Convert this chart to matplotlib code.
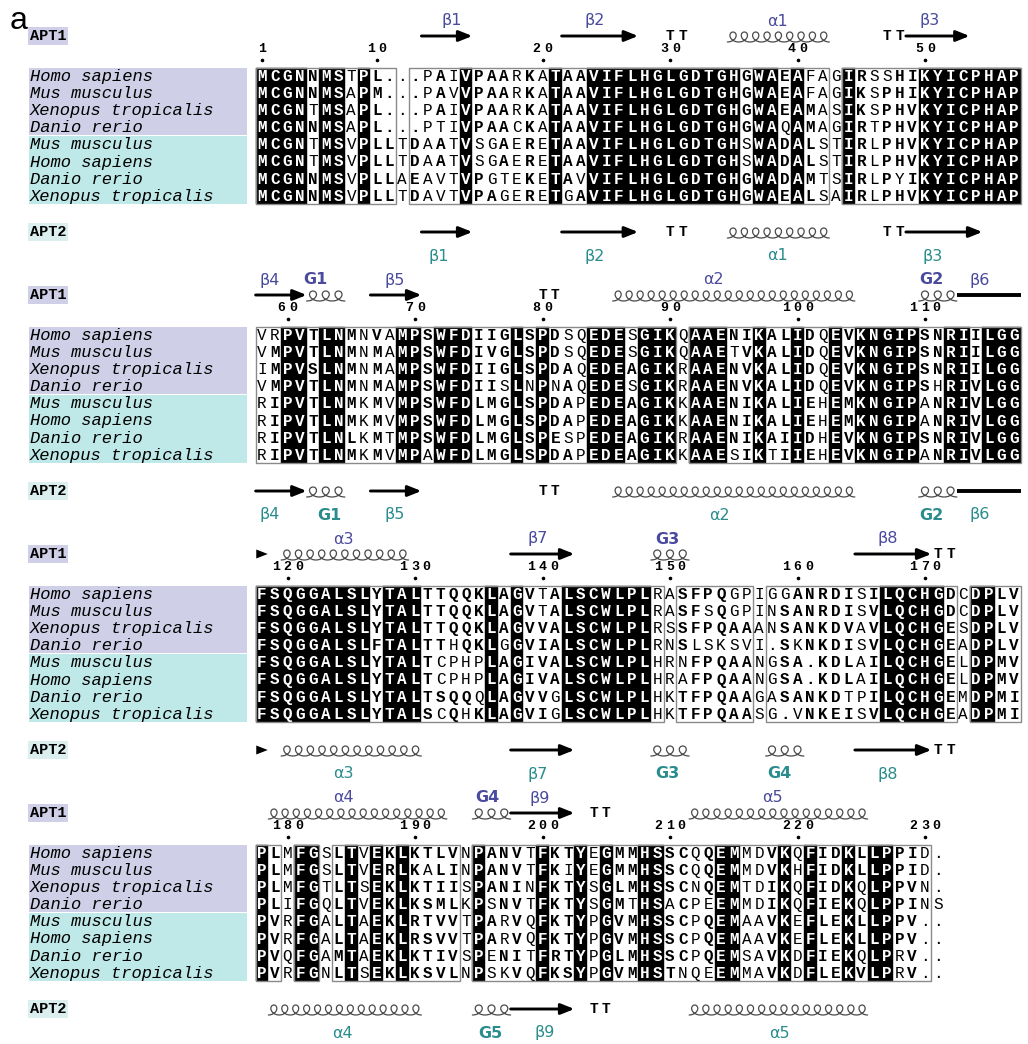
import numpy as np
import matplotlib
matplotlib.use("Agg")
import matplotlib.pyplot as plt
from matplotlib.patches import Rectangle, FancyArrowPatch, Polygon
from collections import Counter

# ---------------- data ----------------
species = ["Homo sapiens", "Mus musculus", "Xenopus tropicalis", "Danio rerio",
           "Mus musculus", "Homo sapiens", "Danio rerio", "Xenopus tropicalis"]
species_group = ["APT1", "APT1", "APT1", "APT1", "APT2", "APT2", "APT2", "APT2"]

block1 = [
    "MCGNNMSTPL...PAIVPAARKATAAVIFLHGLGDTGHGWAEAFAGIRSSHIKYICPHAP",
    "MCGNNMSAPM...PAVVPAARKATAAVIFLHGLGDTGHGWAEAFAGIKSPHIKYICPHAP",
    "MCGNTMSAPL...PAIVPAARKATAAVIFLHGLGDTGHGWAEAMASIKSPHVKYICPHAP",
    "MCGNNMSAPL...PTIVPAACKATAAVIFLHGLGDTGHGWAQAMAGIRTPHVKYICPHAP",
    "MCGNTMSVPLLTDAATVSGAERETAAVIFLHGLGDTGHSWADALSTIRLPHVKYICPHAP",
    "MCGNTMSVPLLTDAATVSGAERETAAVIFLHGLGDTGHSWADALSTIRLPHVKYICPHAP",
    "MCGNNMSVPLLAEAVTVPGTEKETAVVIFLHGLGDTGHGWADAMTSIRLPYIKYICPHAP",
    "MCGNNMSVPLLTDAVTVPAGERETGAVIFLHGLGDTGHGWAEALSAIRLPHVKYICPHAP",
]
block2 = [
    "VRPVTLNMNVAMPSWFDIIGLSPDSQEDESGIKQAAENIKALIDQEVKNGIPSNRIILGG",
    "VMPVTLNMNMAMPSWFDIVGLSPDSQEDESGIKQAAETVKALIDQEVKNGIPSNRIILGG",
    "IMPVSLNMNMAMPSWFDIIGLSPDAQEDEAGIKRAAENVKALIDQEVKNGIPSNRIILGG",
    "VMPVTLNMNMAMPSWFDIISLNPNAQEDESGIKRAAENVKALIDQEVKNGIPSHRIVLGG",
    "RIPVTLNMKMVMPSWFDLMGLSPDAPEDEAGIKKAAENIKALIEHEMKNGIPANRIVLGG",
    "RIPVTLNMKMVMPSWFDLMGLSPDAPEDEAGIKKAAENIKALIEHEMKNGIPANRIVLGG",
    "RIPVTLNLKMTMPSWFDLMGLSPESPEDEAGIKRAAENIKAIIDHEVKNGIPSNRIVLGG",
    "RIPVTLNMKMVMPAWFDLMGLSPDAPEDEAGIKKAAESIKTIIEHEVKNGIPANRIVLGG",
]
block3 = [
    "FSQGGALSLYTALTTQQKLAGVTALSCWLPLRASFPQGPIGGANRDISILQCHGDCDPLV",
    "FSQGGALSLYTALTTQQKLAGVTALSCWLPLRASFSQGPINSANRDISVLQCHGDCDPLV",
    "FSQGGALSLYTALTTQQKLAGVVALSCWLPLRSSFPQAAANSANKDVAVLQCHGESDPLV",
    "FSQGGALSLFTALTTHQKLGGVIALSCWLPLRNSLSKSVI.SKNKDISVLQCHGEADPLV",
    "FSQGGALSLYTALTCPHPLAGIVALSCWLPLHRNFPQAANGSA.KDLAILQCHGELDPMV",
    "FSQGGALSLYTALTCPHPLAGIVALSCWLPLHRAFPQAANGSA.KDLAILQCHGELDPMV",
    "FSQGGALSLYTALTSQQQLAGVVGLSCWLPLHKTFPQAAGASANKDTPILQCHGEMDPMI",
    "FSQGGALSLYTALSCQHKLAGVIGLSCWLPLHKTFPQAASG.VNKEISVLQCHGEADPMI",
]
block4 = [
    "PLMFGSLTVEKLKTLVNPANVTFKTYEGMMHSSCQQEMMDVKQFIDKLLPPID.",
    "PLMFGSLTVERLKALINPANVTFKIYEGMMHSSCQQEMMDVKHFIDKLLPPID.",
    "PLMFGTLTSEKLKTIISPANINFKTYSGLMHSSCNQEMTDIKQFIDKQLPPVN.",
    "PLIFGQLTVEKLKSMLKPSNVTFKTYSGMTHSACPEEMMDIKQFIEKQLPPINS",
    "PVRFGALTAEKLRTVVTPARVQFKTYPGVMHSSCPQEMAAVKEFLEKLLPPV..",
    "PVRFGALTAEKLRSVVTPARVQFKTYPGVMHSSCPQEMAAVKEFLEKLLPPV..",
    "PVQFGAMTAEKLKTIVSPENITFRTYPGLMHSSCPQEMSAVKDFIEKQLPRV..",
    "PVRFGNLTSEKLKSVLNPSKVQFKSYPGVMHSTNQEEMMAVKDFLEKVLPRV..",
]
blocks = [block1, block2, block3, block4]
numbering_row = 0          # numbering follows Homo sapiens APT1
first_residue = 1

# framed (similarity) column ranges per block
frames = [
    [(1, 11), (13, 45), (47, 60)],
    [(1, 33), (35, 60)],
    [(1, 32), (34, 39), (41, 55), (57, 60)],
    [(1, 2), (4, 5), (7, 16), (18, 53)],
]

# secondary structure: (kind, first col, last col, label, label col)
# kinds: E strand arrow, L strand continuing (no head), A arrow head only,
#        H helix, T turn
ss_apt1 = [
    [("E", 14, 17, "β1", 15.9), ("E", 25, 30, "β2", 27.1), ("T", 33, 34, "", 0),
     ("H", 38, 45, "α1", 41.4), ("T", 50, 51, "", 0), ("E", 52, 56, "β3", 53.4)],
    [("E", 1, 4, "β4", 1.6), ("H", 5, 7, "G1", 5.2), ("E", 10, 13, "β5", 11.4),
     ("T", 23, 24, "", 0), ("H", 29, 47, "α2", 36.4), ("H", 53, 55, "G2", 53.5),
     ("L", 56, 60, "β6", 57.3)],
    [("A", 1, 1, "", 0), ("H", 3, 12, "α3", 7.4), ("E", 21, 25, "β7", 22.6),
     ("H", 32, 34, "G3", 32.8), ("E", 48, 53, "β8", 50.1), ("T", 54, 55, "", 0)],
    [("H", 2, 15, "α4", 7.4), ("H", 18, 20, "G4", 18.7), ("E", 21, 25, "β9", 22.8),
     ("T", 27, 28, "", 0), ("H", 35, 48, "α5", 41.0)],
]
ss_apt2 = [
    [("E", 14, 17, "β1", 14.9), ("E", 25, 30, "β2", 27.1), ("T", 33, 34, "", 0),
     ("H", 38, 45, "α1", 41.4), ("T", 50, 51, "", 0), ("E", 52, 57, "β3", 53.6)],
    [("E", 1, 4, "β4", 1.6), ("H", 5, 7, "G1", 6.3), ("E", 10, 13, "β5", 11.4),
     ("T", 23, 24, "", 0), ("H", 29, 47, "α2", 36.9), ("H", 53, 55, "G2", 53.5),
     ("L", 56, 60, "β6", 57.3)],
    [("A", 1, 1, "", 0), ("H", 3, 13, "α3", 7.4), ("E", 21, 25, "β7", 22.6),
     ("H", 32, 34, "G3", 32.8), ("H", 41, 43, "G4", 41.6), ("E", 48, 53, "β8", 50.1),
     ("T", 54, 55, "", 0)],
    [("H", 2, 13, "α4", 7.3), ("H", 18, 20, "G5", 18.9), ("E", 21, 25, "β9", 23.2),
     ("T", 27, 28, "", 0), ("H", 35, 48, "α5", 41.6)],
]

# ---------------- style / layout ----------------
W, H = 1028, 1044
COL1_PX, COLW_PX = 262.0, 12.75
BLOCK_Y = [76, 335, 594, 853]
ROW_H = 17.1
MONO = "Liberation Mono"
SANS = "DejaVu Sans"
BG_APT1 = "#cfd0e7"
BG_APT2 = "#bfe8e8"
LAB_APT1 = "#4a4a9e"
LAB_APT2 = "#2a8c8c"
FRAME_C = "#8a8a8a"
HELIX_C = "#4a4a4a"
SIM_GROUPS = ["ILMV", "FYW", "KR", "DE", "ST", "NQ"]

fig = plt.figure(figsize=(W / 100, H / 100), dpi=100)
ax = fig.add_axes([0, 0, 1, 1])
ax.set_xlim(1 - COL1_PX / COLW_PX, 1 + (W - COL1_PX) / COLW_PX)
ax.set_ylim(H, 0)
ax.axis("off")


def px2col(px):
    return (px - COL1_PX) / COLW_PX + 1


def grp(ch):
    for g in SIM_GROUPS:
        if ch in g:
            return g
    return ch


def in_frame(c, fr):
    return any(a <= c <= b for a, b in fr)


def helix(c0, c1, y):
    x0, x1 = c0 - 0.5, c1 + 0.5
    L = x1 - x0
    n = max(3, int(round(L / 0.88)))
    p = L / n
    t = np.linspace(0, 2 * np.pi * n, 120 * n)
    xs = x0 + p * t / (2 * np.pi) + 0.5 * p * np.sin(t)
    ys = y + 1.0 + 5.0 * np.cos(t)
    ax.plot(xs, ys, color=HELIX_C, lw=0.9, solid_capstyle="round")


def draw_ss(elems, y, ylab, lab_color, lab_weight_g):
    for kind, c0, c1, lab, lc in elems:
        if kind == "E":
            ax.add_patch(FancyArrowPatch((c0 - 0.5, y), (c1 + 0.5, y),
                                         arrowstyle="-|>,head_length=0.8,head_width=0.32",
                                         mutation_scale=10, lw=2.1, color="black",
                                         shrinkA=0, shrinkB=0))
        elif kind == "L":
            ax.plot([c0 - 0.5, c1 + 0.5], [y, y], color="black", lw=2.8,
                    solid_capstyle="butt")
        elif kind == "A":
            ax.add_patch(Polygon([(c0 - 0.45, y - 4.5), (c0 - 0.45, y + 4.5), (c0 + 0.45, y)],
                                 closed=True, color="black", lw=0))
        elif kind == "H":
            helix(c0, c1, y)
        elif kind == "T":
            for c in range(c0, c1 + 1):
                ax.text(c, y, "T", family=MONO, weight="bold", fontsize=10.5,
                        ha="center", va="center")
        if lab:
            wt = "bold" if lab.startswith("G") and lab_weight_g else "normal"
            ax.text(lc, ylab, lab, family=SANS, fontsize=11.5, color=lab_color,
                    ha="center", va="center", weight=wt)


fig.text(10 / W, 1 - 6 / H, "a", family="Liberation Sans", fontsize=23,
         ha="left", va="top")

res_counter = first_residue
for b, block in enumerate(blocks):
    y0 = BLOCK_Y[b]
    ncol = len(block[0])
    top = y0 - 8.5
    bot = y0 + 7 * ROW_H + 8.5
    mid = y0 + 3.5 * ROW_H
    fr = frames[b]

    # group labels
    ax.text(px2col(30), y0 - 40, "APT1", family=MONO, weight="bold", fontsize=11,
            ha="left", va="center",
            bbox=dict(boxstyle="square,pad=0.12", fc=BG_APT1, ec="none"))
    ax.text(px2col(30), y0 + 156, "APT2", family=MONO, weight="bold", fontsize=11,
            ha="left", va="center",
            bbox=dict(boxstyle="square,pad=0.12", fc="#dcefef", ec="none"))

    # species name backgrounds
    xb0, xb1 = px2col(29), px2col(247)
    ax.add_patch(Rectangle((xb0, top), xb1 - xb0, mid - top - 0.6, fc=BG_APT1, ec="none"))
    ax.add_patch(Rectangle((xb0, mid + 0.6), xb1 - xb0, bot - mid - 0.6, fc=BG_APT2, ec="none"))
    for r, name in enumerate(species):
        ax.text(px2col(30), y0 + r * ROW_H + 5, name, family=MONO, style="italic",
                fontsize=12.3, ha="left", va="baseline")

    # identical columns (black) and styles
    cols = ["".join(s[i] for s in block) for i in range(ncol)]
    ident = [("." not in col) and len(set(col)) == 1 for col in cols]
    c = 0
    while c < ncol:
        if ident[c]:
            s = c
            while c < ncol and ident[c]:
                c += 1
            ax.add_patch(Rectangle((s + 0.5, top), c - s, bot - top, fc="black",
                                   ec="black", lw=0.3))
        else:
            c += 1

    # frames
    for a, e in fr:
        ax.add_patch(Rectangle((a - 0.5, top), e - a + 1, bot - top, fill=False,
                               ec=FRAME_C, lw=1.0))

    # letters
    for i, col in enumerate(cols):
        cnum = i + 1
        bold = [False] * len(col)
        if ident[i]:
            bold = [True] * len(col)
        elif in_frame(cnum, fr):
            res = [ch for ch in col if ch != "."]
            if res:
                g, n = Counter(grp(ch) for ch in res).most_common(1)[0]
                if n / len(res) >= 0.6:
                    bold = [grp(ch) == g or ch == "." for ch in col]
        for r, ch in enumerate(col):
            ax.text(cnum, y0 + r * ROW_H + 5, ch, family=MONO, fontsize=11.5,
                    weight="bold" if bold[r] else "normal",
                    color="white" if ident[i] else "black",
                    ha="center", va="baseline")

    # numbering ruler (residues of the reference sequence)
    for i, ch in enumerate(block[numbering_row]):
        if ch == ".":
            continue
        if res_counter == 1 or res_counter % 10 == 0:
            s = str(res_counter)
            k = len(s)
            for j, d in enumerate(s):
                ax.text(i + 1 + (j - (k - 1) / 2) * 0.92, y0 - 27, d, family=MONO,
                        weight="bold", fontsize=9.5, ha="center", va="center")
            ax.plot([i + 1], [y0 - 16], marker="o", ms=1.6, color="black")
        res_counter += 1

    # secondary structures
    draw_ss(ss_apt1[b], y0 - 40, y0 - 55, LAB_APT1, True)
    draw_ss(ss_apt2[b], y0 + 156, y0 + 180, LAB_APT2, True)

fig.savefig("out.png", dpi=100)
